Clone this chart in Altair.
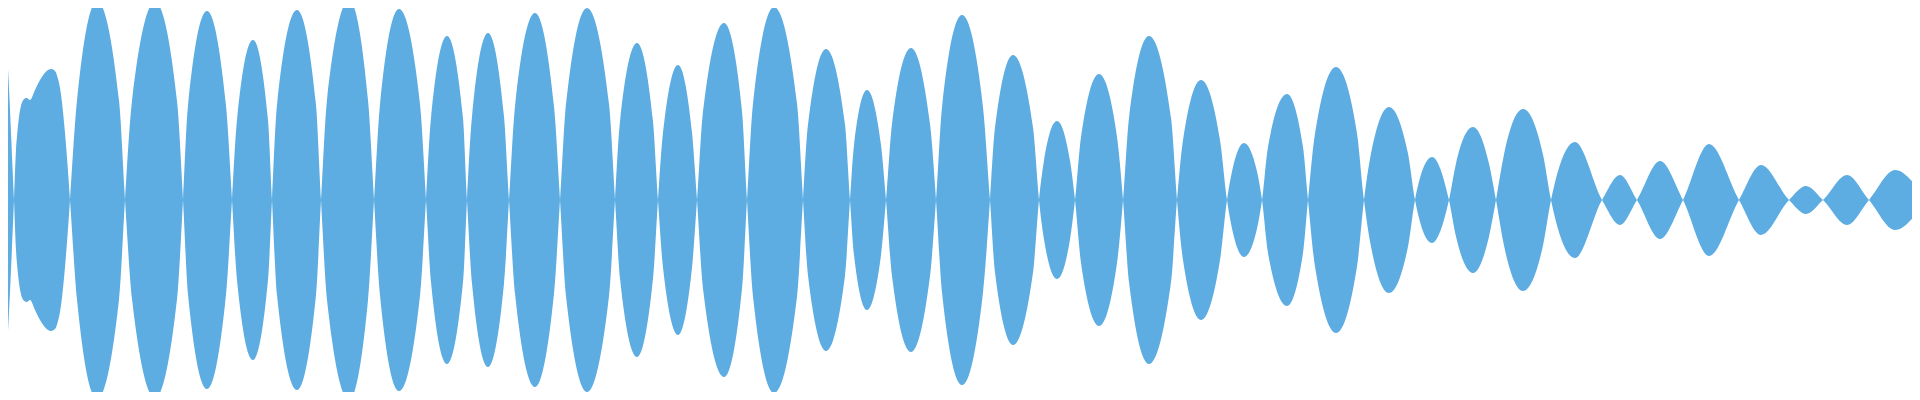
import altair as alt
import pandas as pd

# Readings of the waveform envelope (x position, amplitude from the centre line)
head_x = [0, 3]
head_amp = [127, 179]
second_x = [16, 17.3, 19, 20.7, 23.3, 26.7, 30, 35, 40, 44, 48, 51, 55, 58.3, 60, 61.7, 65, 67.7]
second_amp = [50, 67, 83, 93, 100, 102, 100, 110, 120, 126, 130, 131, 129, 120, 112, 100, 67, 33]
zero_x = [14, 70, 125, 183, 232, 272, 321, 374, 426, 467,
          509, 560, 615, 658, 697, 747, 803, 850, 886, 936,
          990, 1039, 1075, 1123, 1177, 1227, 1262, 1308, 1364, 1415,
          1449, 1496, 1551, 1602, 1637, 1683, 1739, 1789, 1823, 1869]
peak_x = [97, 155, 207, 253, 297, 349, 399, 447, 488, 535,
          587, 637, 678, 724, 774, 826, 867, 911, 962, 1013,
          1057, 1099, 1149, 1201, 1244, 1287, 1336, 1389, 1432, 1473,
          1523, 1575, 1620, 1660, 1709, 1761, 1806, 1847, 1895]
peak_amp = [199, 198, 189, 160, 190, 200, 191, 164, 167, 187,
            192, 157, 135, 177, 193, 151, 110, 152, 185, 145,
            79, 126, 164, 120, 57, 106, 133, 93, 43, 73,
            91, 58, 25, 39, 56, 35, 14, 25, 30]
# where each lobe is at half of its peak height (left / right side)
half_left_x = [77, 132, 188, 237, 277, 327, 380, 431, 472, 515,
               566, 620, 663, 703, 753, 808, 854, 892, 942, 995,
               1044, 1081, 1129, 1183, 1232, 1268, 1315, 1371, None, 1456,
               1504, None, None, None, None, None, None, None, None]
half_right_x = [119, 177, 226, 268, 316, 368, 420, 463, 504, 554,
                609, 653, 692, 742, 797, 845, 881, 930, 983, 1033,
                1070, 1117, 1171, 1220, 1257, 1303, 1357, 1408, None, 1489,
                1543, None, None, None, None, None, None, None, None]
tail_x = [1920]
tail_amp = [9]

lobes = [(head_x, head_amp), (second_x, second_amp)]
for i, (px, pa) in enumerate(zip(peak_x, peak_amp)):
    xs, amps = [], []
    if half_left_x[i] is not None:
        xs.append(half_left_x[i]); amps.append(pa / 2)
    xs.append(px); amps.append(pa)
    if half_right_x[i] is not None:
        xs.append(half_right_x[i]); amps.append(pa / 2)
    if i == len(peak_x) - 1:
        xs += tail_x; amps += tail_amp
    lobes.append((xs, amps))

rows = []
for i, (xs, amps) in enumerate(lobes):
    sign = 1 if i % 2 == 0 else -1
    for xv, av in zip(xs, amps):
        rows.append({"x": xv, "top": sign * av, "bottom": -sign * av})
    if i < len(zero_x):
        rows.append({"x": zero_x[i], "top": 0, "bottom": 0})

df = pd.DataFrame(rows)

chart = (
    alt.Chart(df)
    .mark_area(interpolate="monotone", color="#5DADE2", clip=True, opacity=1)
    .encode(
        x=alt.X("x:Q", scale=alt.Scale(domain=[8, 1912], nice=False, zero=False), axis=None),
        y=alt.Y("top:Q", scale=alt.Scale(domain=[-192, 192], nice=False), axis=None),
        y2="bottom:Q",
    )
    .properties(width=1904, height=384, padding=0, background="white")
    .configure_view(stroke=None)
)

chart.save("out.html", embed_options={"renderer": "svg", "actions": False})
